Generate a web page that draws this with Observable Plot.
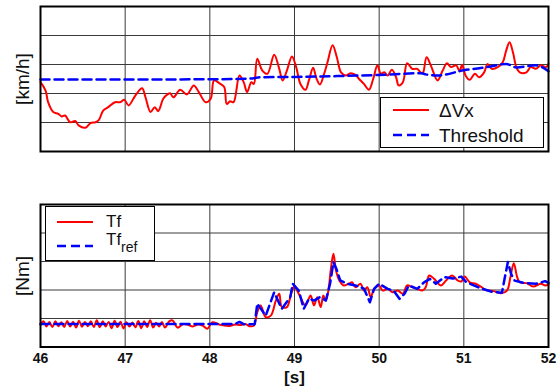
<!DOCTYPE html>
<html>
<head>
<meta charset="utf-8">
<script src="https://cdn.jsdelivr.net/npm/d3@7"></script>
<script src="https://cdn.jsdelivr.net/npm/@observablehq/plot@0.6"></script>
<style>
  html, body { margin: 0; padding: 0; background: #fff; }
  #wrap { position: relative; width: 560px; height: 392px; font-family: "Liberation Sans", Arial, sans-serif; overflow: hidden; }
  #wrap > svg { position: absolute; left: 0; font-family: "Liberation Sans", Arial, sans-serif; }
  .legend { position: absolute; background: #fff; border: 1.5px solid #000; box-sizing: border-box; }
  .legend svg { position: absolute; left: 0; top: 0; }
  .legend span { position: absolute; color: #111; line-height: 1; white-space: nowrap; }
  .ylab { position: absolute; width: 100px; height: 20px; line-height: 20px; text-align: center; font-size: 19px; color: #111; transform: translate(-50%, -50%) rotate(-90deg); white-space: nowrap; }
</style>
</head>
<body>
<div id="wrap"></div>
<script>
// ---- data ----
const xTicks = [46, 47, 48, 49, 50, 51, 52];
const yTicks = [0, 1, 2, 3, 4, 5];

const dvT = [46.00,46.06,46.09,46.15,46.21,46.25,46.29,46.35,46.41,46.45,46.53,46.59,46.65,46.69,46.74,46.80,46.88,46.94,46.99,47.04,47.12,47.20,47.24,47.30,47.35,47.39,47.45,47.50,47.53,47.57,47.65,47.73,47.81,47.87,47.95,48.01,48.05,48.11,48.17,48.20,48.24,48.28,48.35,48.40,48.44,48.49,48.52,48.56,48.62,48.68,48.76,48.82,48.86,48.91,48.97,49.02,49.07,49.13,49.17,49.22,49.26,49.30,49.35,49.39,49.45,49.50,49.55,49.61,49.66,49.72,49.76,49.82,49.88,49.93,49.98,50.02,50.06,50.10,50.15,50.20,50.23,50.28,50.33,50.39,50.45,50.50,50.52,50.56,50.61,50.69,50.75,50.80,50.85,50.91,50.95,50.98,51.02,51.07,51.13,51.18,51.24,51.28,51.33,51.40,51.46,51.50,51.54,51.58,51.62,51.66,51.74,51.79,51.85,51.91,51.97,52.00];
const dvV = [2.39,2.10,1.70,1.36,1.30,1.21,1.24,1.01,1.05,0.90,0.82,0.98,1.01,1.09,1.41,1.53,1.70,1.70,1.78,1.59,1.93,2.18,1.87,1.36,1.53,1.39,1.82,1.97,2.01,1.87,2.13,1.97,2.28,2.05,1.70,1.82,2.45,2.36,2.22,1.64,1.73,1.70,2.62,2.39,2.05,2.39,2.33,3.20,2.79,2.68,3.34,2.85,2.45,2.79,3.28,2.91,2.33,2.13,2.45,2.89,2.51,2.31,2.68,3.08,3.66,3.25,2.73,2.62,2.70,2.64,2.51,2.33,2.13,2.51,2.97,2.68,2.73,2.62,2.82,2.56,2.28,2.39,3.04,2.85,2.85,2.70,2.73,3.25,2.97,2.45,2.79,3.04,2.91,2.97,2.77,2.99,2.62,2.47,2.68,2.56,2.73,3.02,2.85,2.91,3.08,3.48,3.77,3.42,2.91,2.73,2.73,2.91,2.85,2.97,2.91,3.02];

const thT = [46.00,48.00,48.50,48.60,49.00,49.50,50.00,50.50,50.55,50.69,51.00,51.30,51.50,51.62,51.85,52.00];
const thV = [2.48,2.49,2.52,2.56,2.57,2.60,2.64,2.70,2.66,2.62,2.80,2.92,3.02,2.90,2.97,2.77];

const tfT = [46.00,46.035,46.07,46.105,46.14,46.175,46.21,46.245,46.28,46.315,46.35,46.385,46.42,46.455,46.49,46.525,46.56,46.595,46.63,46.665,46.70,46.735,46.77,46.805,46.84,46.875,46.91,46.945,46.98,47.015,47.05,47.085,47.12,47.155,47.19,47.225,47.26,47.295,47.33,47.365,47.40,47.435,47.47,47.52,47.56,47.62,47.68,47.74,47.80,47.86,47.92,47.97,48.03,48.10,48.16,48.23,48.30,48.36,48.42,48.47,48.52,48.56,48.60,48.66,48.72,48.78,48.82,48.85,48.91,48.96,49.00,49.02,49.07,49.13,49.19,49.23,49.27,49.31,49.34,49.37,49.40,49.43,49.46,49.49,49.53,49.58,49.64,49.68,49.72,49.78,49.82,49.86,49.90,49.94,50.00,50.04,50.10,50.16,50.22,50.28,50.33,50.39,50.45,50.51,50.55,50.59,50.65,50.73,50.79,50.86,50.93,50.97,51.01,51.07,51.14,51.20,51.26,51.35,51.44,51.51,51.55,51.59,51.63,51.66,51.74,51.82,51.91,51.96,52.00];
const tfV = [0.78,0.90,0.72,0.88,0.70,0.90,0.73,0.87,0.70,0.91,0.72,0.89,0.68,0.92,0.71,0.88,0.73,0.90,0.70,0.94,0.69,0.90,0.72,0.88,0.66,0.92,0.70,0.89,0.65,0.87,0.72,0.86,0.69,0.91,0.66,0.90,0.70,0.94,0.68,0.85,0.72,0.88,0.68,0.90,0.93,0.68,0.80,0.78,0.72,0.79,0.74,0.64,0.87,0.80,0.76,0.74,0.79,0.77,0.81,0.73,0.75,1.22,1.46,1.05,1.10,1.63,1.87,1.40,1.40,1.87,2.15,2.04,1.75,1.46,1.81,1.46,1.75,1.40,1.81,1.63,1.98,2.74,3.27,2.68,2.33,2.16,2.22,2.27,2.10,2.22,1.98,2.10,1.75,2.04,2.16,1.98,2.04,1.92,1.98,1.87,2.16,2.10,2.04,1.98,2.10,2.51,2.39,2.16,2.33,2.51,2.33,2.30,2.47,2.27,2.22,2.12,2.00,1.96,1.89,1.98,2.45,2.94,2.45,2.27,2.24,2.12,2.22,2.16,2.19];

const refT = [46.00,48.30,48.35,48.40,48.53,48.56,48.66,48.76,48.85,48.95,48.98,49.05,49.11,49.17,49.23,49.30,49.37,49.42,49.46,49.50,49.54,49.62,49.72,49.82,49.89,49.94,50.00,50.10,50.17,50.24,50.30,50.35,50.45,50.53,50.60,50.67,50.77,50.87,50.97,51.03,51.20,51.33,51.45,51.47,51.52,51.56,51.60,51.72,51.85,51.96,52.00];
const refV = [0.81,0.81,0.88,0.80,0.80,1.52,1.10,1.92,1.34,1.75,2.22,1.98,1.34,1.70,1.63,1.75,1.63,2.22,2.98,2.70,2.34,2.22,2.16,2.05,1.57,2.04,2.22,2.04,1.98,1.69,1.87,2.16,2.04,2.27,2.39,2.22,2.45,2.40,2.47,2.27,2.06,1.94,1.90,2.22,2.98,2.55,2.33,2.24,2.22,2.31,2.25];

const zip = (T, V) => T.map((t, i) => ({t, v: V[i]}));
const dv = zip(dvT, dvV), th = zip(thT, thV), tf = zip(tfT, tfV), tref = zip(refT, refV);

const RED = "#ff0000", BLUE = "#0000ff";
const gridStyle = {stroke: "#3a3a3a", strokeOpacity: 1, strokeWidth: 1};
const wrap = document.getElementById("wrap");

// ---- top panel ----
const topPlot = Plot.plot({
  width: 560, height: 190,
  marginLeft: 40, marginRight: 12, marginTop: 6, marginBottom: 39,
  x: {domain: [46, 52]},
  y: {domain: [0, 5]},
  axis: null,
  marks: [
    Plot.gridX(xTicks, gridStyle),
    Plot.gridY(yTicks, gridStyle),
    Plot.line(dv, {x: "t", y: "v", stroke: RED, strokeWidth: 2, curve: "catmull-rom"}),
    Plot.line(th, {x: "t", y: "v", stroke: BLUE, strokeWidth: 2.5, strokeDasharray: "9,5", curve: "monotone-x"}),
    Plot.frame({stroke: "#000", strokeWidth: 2})
  ]
});
topPlot.style.top = "0px";
wrap.appendChild(topPlot);

// ---- bottom panel ----
const botPlot = Plot.plot({
  width: 560, height: 202,
  marginLeft: 40, marginRight: 12, marginTop: 14, marginBottom: 45.5,
  x: {domain: [46, 52], axis: null},
  y: {domain: [0, 5], axis: null},
  marks: [
    Plot.gridX(xTicks, gridStyle),
    Plot.gridY(yTicks, gridStyle),
    Plot.line(tf, {x: "t", y: "v", stroke: RED, strokeWidth: 2, curve: "catmull-rom"}),
    Plot.line(tref, {x: "t", y: "v", stroke: BLUE, strokeWidth: 2.5, strokeDasharray: "9,5"}),
    Plot.frame({stroke: "#000", strokeWidth: 2}),
    Plot.axisX(xTicks, {tickSize: 0, tickPadding: 6, fontSize: 14, fontWeight: "bold", fill: "#111", label: null, tickFormat: d => String(d)}),
    Plot.text(["[s]"], {frameAnchor: "bottom", dy: 36, fontSize: 17, fontWeight: "bold", fill: "#111"})
  ]
});
botPlot.style.top = "190px";
wrap.appendChild(botPlot);

// ---- y labels ----
function ylab(text, cx, cy) {
  const d = document.createElement("div");
  d.className = "ylab";
  d.textContent = text;
  d.style.left = cx + "px";
  d.style.top = cy + "px";
  wrap.appendChild(d);
}
ylab("[km/h]", 23, 79);
ylab("[Nm]", 23, 276);

// ---- legends ----
function legend(box, items) {
  const d = document.createElement("div");
  d.className = "legend";
  Object.assign(d.style, {left: box.left + "px", top: box.top + "px", width: box.w + "px", height: box.h + "px"});
  const ns = "http://www.w3.org/2000/svg";
  const s = document.createElementNS(ns, "svg");
  s.setAttribute("width", box.w); s.setAttribute("height", box.h);
  items.forEach(it => {
    const l = document.createElementNS(ns, "line");
    l.setAttribute("x1", it.x1); l.setAttribute("x2", it.x2);
    l.setAttribute("y1", it.y); l.setAttribute("y2", it.y);
    l.setAttribute("stroke", it.color); l.setAttribute("stroke-width", it.sw);
    if (it.dash) l.setAttribute("stroke-dasharray", it.dash);
    s.appendChild(l);
    const sp = document.createElement("span");
    sp.innerHTML = it.html;
    Object.assign(sp.style, {left: it.tx + "px", top: it.ty + "px", fontSize: it.fs + "px"});
    d.appendChild(sp);
  });
  d.insertBefore(s, d.firstChild);
  wrap.appendChild(d);
}
legend({left: 380, top: 97, w: 164, h: 51}, [
  {x1: 12, x2: 48, y: 12, color: RED, sw: 2, html: "ΔVx", tx: 58, ty: 3, fs: 19},
  {x1: 12, x2: 48, y: 37, color: BLUE, sw: 2.5, dash: "9,5", html: "Threshold", tx: 58, ty: 28, fs: 19}
]);
legend({left: 45, top: 206, w: 110, h: 55}, [
  {x1: 11, x2: 47, y: 15, color: RED, sw: 2, html: "Tf", tx: 60, ty: 6, fs: 17},
  {x1: 11, x2: 47, y: 39, color: BLUE, sw: 2.5, dash: "9,5", html: "Tf<sub style='font-size:14px;vertical-align:-7px'>ref</sub>", tx: 60, ty: 24, fs: 17}
]);
</script>
</body>
</html>
